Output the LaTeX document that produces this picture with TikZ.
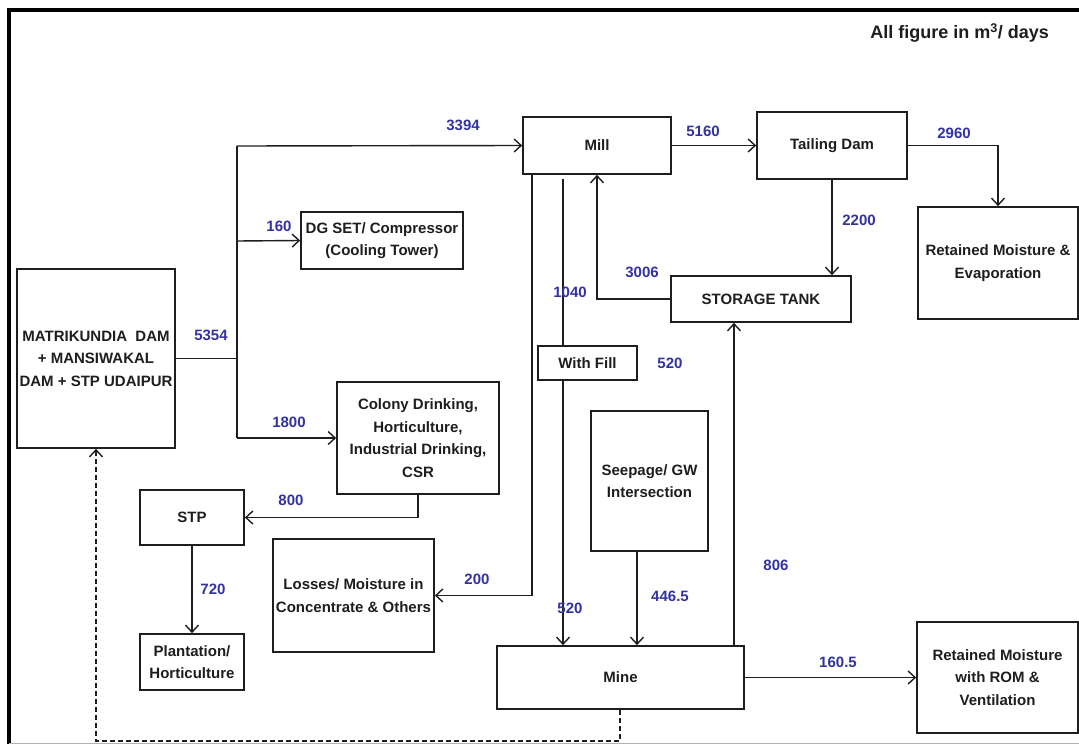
\documentclass[tikz,border=0pt]{standalone}
\usepackage{fontspec}
\setmainfont{Liberation Sans}
\usetikzlibrary{arrows.meta,calc}
\definecolor{lbl}{RGB}{50,50,165}
\definecolor{ink}{RGB}{30,30,30}
\begin{document}
\begin{tikzpicture}[x=1pt,y=-1pt,
  box/.style={draw=ink, line width=1.7pt, align=center, inner sep=0pt,
    font=\fontsize{15}{22.5}\selectfont\bfseries, text=ink},
  con/.style={draw=ink, line width=1.4pt},
  arr/.style={con, -{Straight Barb[length=7pt,width=13pt,line width=1.4pt]}},
  lab/.style={text=lbl, font=\fontsize{15}{18}\selectfont\bfseries, inner sep=0pt}]
\useasboundingbox (0,0) rectangle (1079,744);
\fill[white] (0,0) rectangle (1079,744);
% frame
\draw[black, line width=3.5pt] (9,744) -- (9,10) -- (1079,10);
\draw[gray!60, line width=1pt] (9,743) -- (1079,743);
% header
\node[anchor=east, inner sep=0pt, text=ink, font=\fontsize{18}{20}\selectfont\bfseries] (hdr) at (1049,33) {All figure in m\textsuperscript{3}/ days};
% boxes
\node[box, minimum width=158, minimum height=179] (src) at (96,358.5) {MATRIKUNDIA\ \ DAM\\+ MANSIWAKAL\\DAM + STP UDAIPUR};
\node[box, minimum width=162, minimum height=57] (dg) at (382,240.5) {DG SET/ Compressor\\(Cooling Tower)};
\node[box, minimum width=162, minimum height=112] (col) at (418,438) {Colony Drinking,\\Horticulture,\\Industrial Drinking,\\CSR};
\node[box, minimum width=104, minimum height=55] (stp) at (192,517.5) {STP};
\node[box, minimum width=104, minimum height=56] (plant) at (192,662) {Plantation/\\Horticulture};
\node[box, minimum width=161, minimum height=113] (loss) at (353.5,595.5) {Losses/ Moisture in\\Concentrate \& Others};
\node[box, minimum width=148, minimum height=57] (mill) at (597,145.5) {Mill};
\node[box, minimum width=150, minimum height=67] (td) at (832,145.5) {Tailing Dam};
\node[box, minimum width=180, minimum height=46] (store) at (761,299) {STORAGE TANK};
\node[box, minimum width=160, minimum height=112] (rete) at (998,263) {Retained Moisture \&\\Evaporation};
\node[box, minimum width=99, minimum height=34] (fill) at (587.5,363) {With Fill};
\node[box, minimum width=117, minimum height=140] (seep) at (649.5,481) {Seepage/ GW\\Intersection};
\node[box, minimum width=247, minimum height=63] (mine) at (620.5,677.5) {Mine};
\node[box, minimum width=161, minimum height=111] (retr) at (997.5,677.5) {Retained Moisture\\with ROM \&\\Ventilation};
% helper coordinates
\coordinate (tTop) at (237,146);
\coordinate (tMid) at (237,241);
\coordinate (tSrc) at (237,358.5);
\coordinate (tBot) at (237,438);
\coordinate (xL) at (532,0);
\coordinate (xF) at (563,0);
\coordinate (fTop) at (563,179);
\coordinate (xS) at (637,0);
\coordinate (xU) at (734,0);
\coordinate (xD) at (620,0);
\coordinate (dR) at (620,741);
\coordinate (dL) at (96,741);
% connectors
\draw[con] (src.east) -- (tSrc);
\draw[con] (tTop) -- (tBot);
\draw[arr] (tTop) -- (mill.west);
\draw[arr] (tMid) -- (dg.west);
\draw[arr] (tBot) -- (col.west);
\draw[arr] (col.south) |- (stp.east);
\draw[arr] (stp.south) -- (plant.north);
\draw[arr] (mill.south -| xL) |- (loss.east);
\draw[con] (fTop) -- (fill.north -| xF);
\draw[arr] (fill.south -| xF) -- (mine.north -| xF);
\draw[arr] (store.west) -| (mill.south);
\draw[arr] (mill.east) -- (td.west);
\draw[arr] (td.south) -- (td.south |- store.north);
\draw[arr] (td.east) -| (rete.north);
\draw[arr] (seep.south -| xS) -- (mine.north -| xS);
\draw[arr] (mine.north -| xU) -- (store.south -| xU);
\draw[arr] (mine.east) -- (retr.west);
\draw[arr, dash pattern=on 5pt off 3pt] (mine.south -| xD) -- (dR) -- (dL) -- (src.south);
% labels
\node[lab] (l3394) at (463,125) {3394};
\node[lab] (l160) at (279,226) {160};
\node[lab] (l5354) at (211,335) {5354};
\node[lab] (l1800) at (289,422) {1800};
\node[lab] (l800) at (291,500) {800};
\node[lab] (l720) at (213,589) {720};
\node[lab] (l200) at (477,579) {200};
\node[lab] (l5160) at (703,131) {5160};
\node[lab] (l2960) at (954,133) {2960};
\node[lab] (l2200) at (859,220) {2200};
\node[lab] (l3006) at (642,272) {3006};
\node[lab] (l1040) at (570,292) {1040};
\node[lab] (l520a) at (670,363) {520};
\node[lab] (l806) at (776,565) {806};
\node[lab] (l4465) at (670,596) {446.5};
\node[lab] (l520b) at (570,608) {520};
\node[lab] (l1605) at (838,662) {160.5};
\end{tikzpicture}
\end{document}
